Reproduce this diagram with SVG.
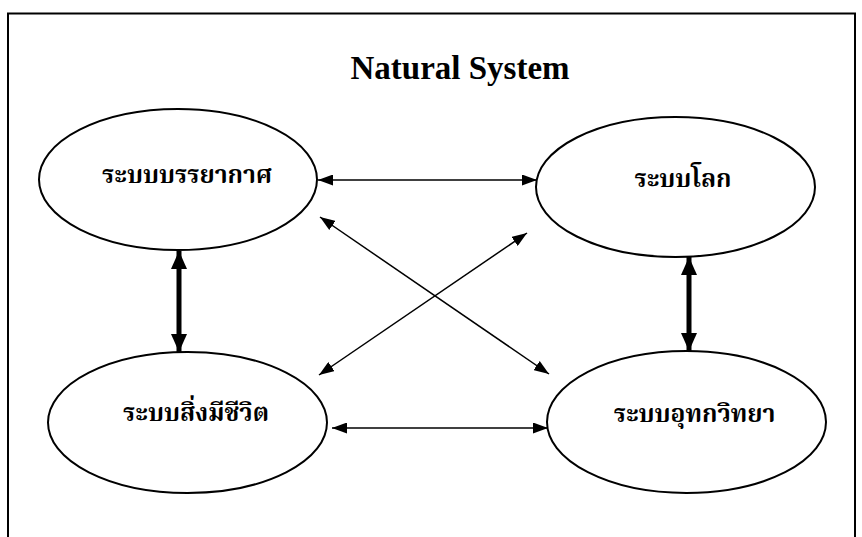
<svg xmlns="http://www.w3.org/2000/svg" width="862" height="537" viewBox="0 0 862 537">
<style>
.node ellipse{fill:#fff;stroke:#000;stroke-width:2}
.lbl{font-family:"Liberation Serif","Noto Serif Thai","Noto Sans Thai","Tlwg Typo",serif;font-weight:bold;font-size:24.5px;fill:#000;text-anchor:middle}
.title{font-family:"Liberation Serif",serif;font-weight:bold;font-size:33px;fill:#000;text-anchor:middle}
.thin{stroke:#000;stroke-width:1.5;fill:none;marker-start:url(#ah);marker-end:url(#ah)}
.thick{stroke:#000;stroke-width:5;fill:none;marker-start:url(#ahb);marker-end:url(#ahb)}
</style>
<defs>
<marker id="ah" markerUnits="userSpaceOnUse" viewBox="0 0 15 11" refX="15" refY="5.5" markerWidth="15" markerHeight="11" orient="auto-start-reverse"><path d="M0,0L15,5.5L0,11z" fill="#000"/></marker>
<marker id="ahb" markerUnits="userSpaceOnUse" viewBox="0 0 18 16" refX="18" refY="8" markerWidth="18" markerHeight="16" orient="auto-start-reverse"><path d="M0,0L18,8L0,16z" fill="#000"/></marker>
</defs>
<rect width="862" height="537" fill="#fff"/>
<path d="M8,537V13.5H855V537" fill="none" stroke="#000" stroke-width="2"/>
<text class="title" x="460" y="79">Natural System</text>
<g id="n1" class="node"><ellipse cx="178" cy="179.5" rx="139" ry="70.5"/><text class="lbl" x="187" y="183">ระบบบรรยากาศ</text></g>
<g id="n2" class="node"><ellipse cx="675.5" cy="187" rx="139.5" ry="70"/><text class="lbl" x="683" y="187">ระบบโลก</text></g>
<g id="n3" class="node"><ellipse cx="187.5" cy="422.5" rx="139.5" ry="70.5"/><text class="lbl" x="196" y="421">ระบบสิ่งมีชีวิต</text></g>
<g id="n4" class="node"><ellipse cx="686.5" cy="422" rx="139.5" ry="71"/><text class="lbl" x="694.5" y="422">ระบบอุทกวิทยา</text></g>
<g id="connectors">
<line class="thin" x1="318" y1="180" x2="537" y2="180"/>
<line class="thin" x1="320" y1="217" x2="549" y2="374"/>
<line class="thin" x1="319" y1="375" x2="527" y2="233"/>
<line class="thin" x1="332" y1="428" x2="548" y2="428"/>
<line class="thick" x1="179" y1="251" x2="179" y2="352"/>
<line class="thick" x1="689" y1="257" x2="689" y2="351"/>
</g>
</svg>
